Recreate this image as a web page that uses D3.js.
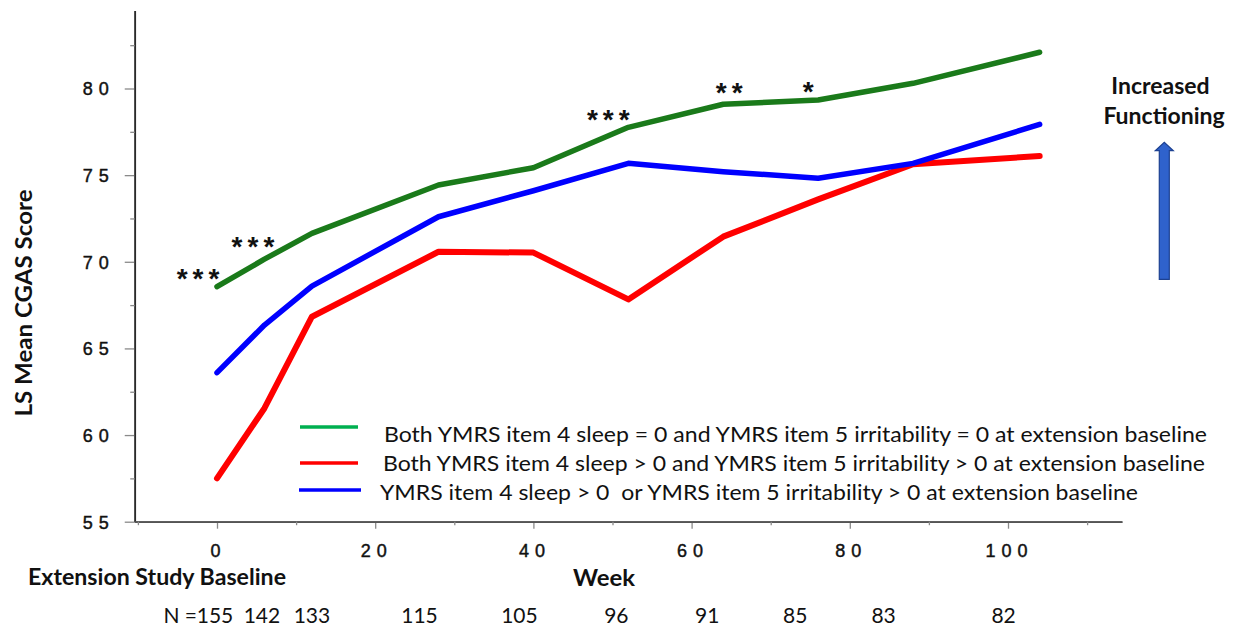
<!DOCTYPE html>
<html><head><meta charset="utf-8">
<script src="https://cdn.jsdelivr.net/npm/d3@7"></script>
<style>body{margin:0;background:#fff} svg{display:block;background:#fff}</style>
</head><body><svg id="c" width="1238" height="627"></svg>
<script>
// ---- data ----
const weeks = [0, 6, 12, 28, 40, 52, 64, 76, 88, 104];
const greenValues = [68.56, 70.15, 71.64, 74.43, 75.43, 77.76, 79.09, 79.34, 80.3, 82.09];
const redValues   = [57.5, 61.55, 66.83, 70.58, 70.53, 67.83, 71.45, 73.6, 75.63, 76.1];
const blueValues  = [63.6, 66.35, 68.6, 72.6, 74.1, 75.68, 75.2, 74.82, 75.68, 77.93];
const seriesLabels = [
  "Both YMRS item 4 sleep = 0 and YMRS item 5 irritability = 0 at extension baseline",
  "Both YMRS item 4 sleep > 0 and YMRS item 5 irritability > 0 at extension baseline",
  "YMRS item 4 sleep > 0  or YMRS item 5 irritability > 0 at extension baseline"
];
const yTicks = [55, 60, 65, 70, 75, 80];
const yMinorTicks = [57.5, 62.5, 67.5, 72.5, 77.5, 82.5];
const xTicks = [0, 20, 40, 60, 80, 100];
const xMinorTicks = [-10, 10, 30, 50, 70, 90, 110];
const nCounts = [155, 142, 133, 115, 105, 96, 91, 85, 83, 82];
const starWeeks = [0, 6, 52, 64, 76];
const starLabels = ["***", "***", "***", "**", "*"];

// ---- layout / style ----
const nLabelShift = [-2, -2.5, 0, -19, -14, -12, -16, -23, -29.5, -36];
const starShift = [[-19, -15], [-11.5, -20], [-20, -15], [6, -19], [-10, -15]];
const lineColors = ["#1a7a1a", "#ff0000", "#0000ff"];
const legendColors = ["#00b050", "#ff0000", "#0000ff"];
const calibri = "Lato, 'Open Sans', sans-serif";
const arial = "'Liberation Sans', Arial, sans-serif";

const svg = d3.select("#c");
const x = d3.scaleLinear().domain([0, 100]).range([217, 1008]);
const y = d3.scaleLinear().domain([55, 80]).range([521.7, 88.5]);
const xMin = -10.4, xMax = 114.4, yMax = 84.5;
const axisColor = "#2a2a2a";
const tickColor = "#8a8a8a";

// y axis
const gy = svg.append("g").attr("transform", `translate(${x(xMin)},0)`);
const yAxisScale = d3.scaleLinear().domain([55, yMax]).range([y(55), y(yMax)]);
gy.call(d3.axisLeft(yAxisScale).tickValues(yTicks).tickSize(10).tickPadding(10).tickSizeOuter(0).tickFormat(d3.format("d")));
gy.append("g").call(d3.axisLeft(yAxisScale).tickValues(yMinorTicks).tickSize(4.5).tickSizeOuter(0).tickFormat(""));
gy.selectAll(".domain").attr("stroke", axisColor).attr("stroke-width", 1.6);
gy.selectAll(".tick line").attr("stroke", tickColor).attr("stroke-width", 1.3);
gy.selectAll(".tick text").attr("font-family", arial).attr("font-size", 18).attr("fill", "#111")
  .attr("stroke", "#111").attr("stroke-width", 0.45)
  .attr("letter-spacing", "6px").attr("dy", "0.36em");

// x axis
const xAxisScale = d3.scaleLinear().domain([xMin, xMax]).range([x(xMin), x(xMax)]);
const gx = svg.append("g").attr("transform", `translate(0,${y(55)})`);
gx.call(d3.axisBottom(xAxisScale).tickValues(xTicks).tickSize(7).tickPadding(15.5).tickSizeOuter(0).tickFormat(d3.format("d")));
gx.append("g").call(d3.axisBottom(xAxisScale).tickValues(xMinorTicks).tickSize(3.5).tickSizeOuter(0).tickFormat(""));
gx.selectAll(".domain").attr("stroke", "#555").attr("stroke-width", 1.8);
gx.selectAll(".tick line").attr("stroke", tickColor).attr("stroke-width", 1.3);
gx.selectAll(".tick text").attr("font-family", arial).attr("font-size", 18).attr("fill", "#111")
  .attr("stroke", "#111").attr("stroke-width", 0.45)
  .attr("letter-spacing", "6px").attr("dx", "1px");

// lines
const series = [greenValues, redValues, blueValues];
const line = d3.line().x((d, i) => x(weeks[i])).y(d => y(d));
svg.append("g").selectAll("path").data(series).join("path")
  .attr("d", d => line(d))
  .attr("fill", "none")
  .attr("stroke", (d, i) => lineColors[i])
  .attr("stroke-width", (d, i) => i === 1 ? 6 : 5.5)
  .attr("stroke-linejoin", "round")
  .attr("stroke-linecap", "round");

// stars
svg.append("g").selectAll("text").data(starWeeks).join("text")
  .attr("x", (w, i) => x(w) + starShift[i][0] + 2.5)
  .attr("y", (w, i) => y(greenValues[weeks.indexOf(w)]) + starShift[i][1] + 16.5)
  .attr("text-anchor", "middle")
  .attr("font-family", arial).attr("font-weight", "bold").attr("font-size", 28).attr("letter-spacing", "5px")
  .attr("fill", "#111")
  .text((w, i) => starLabels[i]);

// legend
const legendLineY = [427, 463, 490];
const legendTextBase = [441.5, 471, 500];
const legendTextX = [384, 383, 380];
const legendTextW = [823, 822, 758];
const lg = svg.append("g");
seriesLabels.forEach((lab, i) => {
  lg.append("line").attr("x1", i === 2 ? 299 : 300).attr("x2", i === 2 ? 361 : 358)
    .attr("y1", legendLineY[i]).attr("y2", legendLineY[i])
    .attr("stroke", legendColors[i]).attr("stroke-width", 3.5);
  lg.append("text").attr("x", legendTextX[i]).attr("y", legendTextBase[i])
    .attr("font-family", calibri).attr("font-size", 21).attr("fill", "#111")
    .style("white-space", "pre")
    .attr("textLength", legendTextW[i]).attr("lengthAdjust", "spacingAndGlyphs")
    .text(lab);
});

// axis titles
svg.append("text").attr("transform", "translate(32,303) rotate(-90)")
  .attr("text-anchor", "middle").attr("font-family", calibri).attr("font-weight", "bold")
  .attr("font-size", 23).attr("fill", "#111")
  .attr("textLength", 227).attr("lengthAdjust", "spacingAndGlyphs")
  .text("LS Mean CGAS Score");
svg.append("text").attr("x", 28).attr("y", 585)
  .attr("font-family", calibri).attr("font-weight", "bold").attr("font-size", 22).attr("fill", "#111")
  .attr("textLength", 258).attr("lengthAdjust", "spacingAndGlyphs")
  .text("Extension Study Baseline");
svg.append("text").attr("x", 604).attr("y", 586).attr("text-anchor", "middle")
  .attr("font-family", calibri).attr("font-weight", "bold").attr("font-size", 23).attr("fill", "#111")
  .attr("textLength", 62).attr("lengthAdjust", "spacingAndGlyphs")
  .text("Week");

// N counts
svg.append("text").attr("x", 197).attr("y", 623).attr("text-anchor", "end")
  .attr("font-family", calibri).attr("font-size", 21).attr("fill", "#111").text("N =");
svg.append("g").selectAll("text").data(nCounts).join("text")
  .attr("x", (d, i) => x(weeks[i]) + nLabelShift[i])
  .attr("y", 623).attr("text-anchor", "middle")
  .attr("font-family", calibri).attr("font-size", 21).attr("fill", "#111")
  .text(d => d);

// Increased Functioning annotation
const ann = svg.append("g").attr("font-family", calibri).attr("font-weight", "bold")
  .attr("font-size", 23).attr("fill", "#111").attr("text-anchor", "middle");
ann.append("text").attr("x", 1160.5).attr("y", 94).text("Increased");
ann.append("text").attr("x", 1164).attr("y", 124).text("Functioning");
const ax = 1164.3;
svg.append("path")
  .attr("d", `M${ax - 5},279.3 L${ax - 5},150.7 L${ax - 9},150.7 L${ax},142.3 L${ax + 9},150.7 L${ax + 5},150.7 L${ax + 5},279.3 Z`)
  .attr("fill", "#2f62cc").attr("stroke", "#1d4191").attr("stroke-width", 1.2);
</script></body></html>
